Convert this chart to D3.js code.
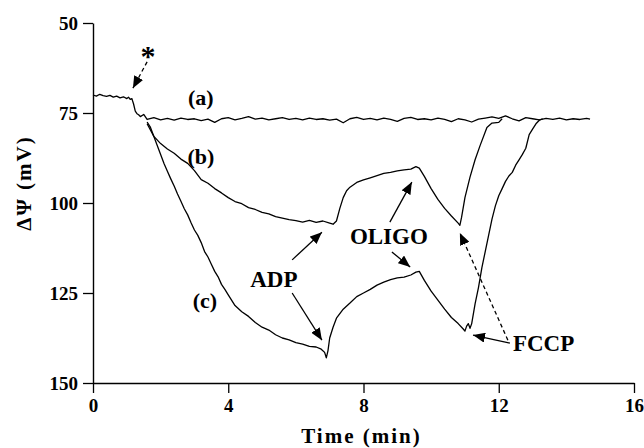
<!DOCTYPE html>
<html>
<head>
<meta charset="utf-8">
<script src="https://cdn.jsdelivr.net/npm/d3@7"></script>
<style>
  body { margin: 0; background: #fff; }
  text { font-family: "Liberation Serif", "Times New Roman", serif; font-weight: bold; fill: #000; }
</style>
</head>
<body>
<div id="chart"></div>
<script>
// ticks
var xTicks = [0, 4, 8, 12, 16];
var yTicks = [50, 75, 100, 125, 150];

// traces: [time (min), delta psi (mV)]
var traceA = [[0,70.0],[0.1,70.3],[0.2,69.8],[0.3,70.2],[0.4,70.4],[0.5,70.1],[0.6,70.6],[0.7,70.3],[0.8,70.8],[0.9,70.5],[1.0,71.0],[1.05,70.6],[1.1,71.2],[1.15,71.0],[1.2,72.5],[1.25,74.5],[1.3,75.2],[1.35,75.5],
  [1.4,76.0],[1.5,75.4],[1.6,76.8],[1.8,76.3],[2.0,76.9],[2.2,76.5],[2.4,77.0],[2.6,76.4],[2.8,76.8],[3.0,76.6],[3.2,77.1],[3.4,76.7],[3.6,77.6],[3.8,76.6],
  [4.0,76.3],[4.2,76.9],[4.4,76.5],[4.6,76.0],[4.8,76.7],[5.0,76.4],[5.2,76.9],[5.4,76.6],[5.6,76.3],[5.8,76.8],[6.0,76.5],[6.2,76.9],[6.4,76.4],[6.6,76.8],
  [6.8,76.6],[7.0,77.0],[7.2,76.7],[7.4,77.7],[7.6,76.6],[7.8,76.2],[8.0,76.8],[8.2,76.5],[8.4,76.9],[8.6,76.4],[8.8,76.8],[9.0,77.3],[9.2,76.5],[9.4,76.2],
  [9.6,76.8],[9.8,76.6],[10.0,76.9],[10.2,76.4],[10.4,76.8],[10.6,77.4],[10.8,76.6],[11.0,76.9],[11.2,77.5],[11.4,76.7],[11.6,76.4],[11.8,76.1],[12.0,76.5],
  [12.2,75.8],[12.4,76.6],[12.6,77.2],[12.8,76.3],[13.0,76.6],[13.2,76.9],[13.4,76.5],[13.6,76.8],[13.8,76.4],[14.0,76.9],[14.2,76.6],[14.4,76.8],[14.6,76.5],[14.7,76.7]];

var traceB = [[1.6,78.0],[1.8,81.5],[2.0,83.5],[2.2,85.0],[2.4,86.2],[2.6,87.8],[2.8,89.0],[3.0,91.0],[3.2,93.5],[3.4,94.5],[3.6,96.0],[3.8,97.2],[4.0,98.5],
  [4.2,99.6],[4.4,100.2],[4.6,101.3],[4.8,101.8],[5.0,102.6],[5.2,103.0],[5.4,103.8],[5.6,104.2],[5.8,104.6],[6.0,104.9],[6.2,105.3],[6.4,104.8],[6.6,105.4],
  [6.8,105.0],[7.0,105.6],[7.1,105.9],[7.2,105.0],[7.3,101.5],[7.4,98.5],[7.5,96.6],[7.6,95.6],[7.8,94.3],[8.0,93.6],[8.2,93.0],[8.4,92.4],[8.6,91.8],
  [8.8,91.5],[9.0,91.1],[9.2,90.8],[9.4,90.6],[9.55,89.9],[9.65,90.3],[9.8,92.6],[10.0,96.0],[10.2,99.0],[10.4,101.5],[10.6,103.6],[10.8,105.6],[10.85,106.2],
  [10.9,104.0],[11.0,98.5],[11.15,92.8],[11.3,88.0],[11.45,84.0],[11.65,79.0],[11.8,77.8],[12.0,77.6],[12.1,76.6]];

var traceC = [[1.6,77.5],[1.7,79.0],[1.8,81.5],[1.9,84.0],[2.0,86.5],[2.1,89.0],[2.2,91.2],[2.3,93.3],[2.4,95.3],[2.5,97.5],[2.6,99.5],[2.7,101.6],[2.8,103.3],
  [2.9,105.5],[3.0,107.5],[3.1,109.0],[3.2,111.0],[3.3,113.5],[3.4,115.0],[3.5,117.0],[3.6,119.0],[3.7,120.5],[3.8,122.6],[3.9,124.0],[4.0,125.5],[4.2,128.5],
  [4.4,130.2],[4.6,131.5],[4.8,133.2],[5.0,134.5],[5.2,135.3],[5.4,136.6],[5.6,137.5],[5.8,138.0],[6.0,138.8],[6.2,139.2],[6.4,139.8],[6.6,140.0],[6.75,140.6],
  [6.85,141.5],[6.9,143.0],[6.95,141.0],[7.0,137.5],[7.1,134.5],[7.2,132.0],[7.4,129.5],[7.6,127.8],[7.8,126.0],[8.0,125.0],[8.2,124.0],[8.4,122.8],[8.6,122.0],
  [8.8,121.3],[9.0,120.8],[9.2,120.6],[9.4,120.0],[9.55,119.2],[9.65,119.0],[9.8,121.5],[10.0,124.5],[10.2,127.0],[10.4,129.5],[10.6,131.8],[10.8,133.5],
  [10.95,135.0],[11.0,135.6],[11.05,134.2],[11.1,133.5],[11.15,134.8],[11.2,133.5],[11.3,128.0],[11.4,123.5],[11.5,118.0],[11.6,113.5],[11.7,109.0],[11.8,104.5],
  [11.9,100.8],[12.0,98.0],[12.1,96.0],[12.2,94.0],[12.3,92.5],[12.4,91.5],[12.5,89.5],[12.6,88.0],[12.7,86.5],[12.8,84.8],[12.9,81.0],[13.0,79.5],[13.1,78.0],
  [13.2,77.0],[13.3,76.6]];

// curve labels and additions, in data units
var curveLabels = [["(a)",3.19,72.8],["(b)",3.19,89.2],["(c)",3.31,129.2]];
var addLabels = [["ADP",5.35,123.3,"middle"],["OLIGO",8.75,111.4,"middle"],["FCCP",12.42,141.1,"start"]];
// arrows: [t0, v0, t1, v1, dashed]
var arrows = [[1.60,60.8,1.18,68.1,true],
  [5.89,115.8,6.77,108.1,false],[5.89,125.0,6.77,138.1,false],
  [8.78,105.3,9.43,94.2,false],[8.84,113.6,9.38,117.8,false],
  [12.33,138.9,11.24,136.7,false],[12.27,138.1,10.85,108.3,true]];

var margin = {top: 23, right: 10, bottom: 65, left: 93},
    width = 634 - margin.left,
    height = 383 - margin.top;

var svg = d3.select("#chart").append("svg")
    .attr("width", 644).attr("height", 448)
  .append("g")
    .attr("transform", "translate(" + margin.left + "," + margin.top + ")");

var x = d3.scaleLinear().domain([0, 16]).range([0, width]);
var y = d3.scaleLinear().domain([50, 150]).range([0, height]);

svg.append("defs").append("marker")
    .attr("id", "head")
    .attr("markerUnits", "userSpaceOnUse")
    .attr("viewBox", "0 0 12 10")
    .attr("refX", 12).attr("refY", 5)
    .attr("markerWidth", 12).attr("markerHeight", 10)
    .attr("orient", "auto")
  .append("path")
    .attr("d", "M0,0L12,5L0,10Z")
    .attr("fill", "#000");

// axes
var xAxis = svg.append("g")
    .attr("transform", "translate(0," + height + ")")
    .call(d3.axisBottom(x).tickValues(xTicks).tickSize(10).tickSizeOuter(0).tickPadding(6));
var yAxis = svg.append("g")
    .call(d3.axisLeft(y).tickValues(yTicks).tickSize(10).tickSizeOuter(0).tickPadding(5));
[xAxis, yAxis].forEach(function(a) {
  a.select(".domain").attr("stroke", "#000").attr("stroke-width", 1.4);
  a.selectAll(".tick line").attr("stroke", "#000").attr("stroke-width", 1.3);
  a.selectAll("text").attr("font-size", 19).attr("font-family", null);
});
xAxis.selectAll("text").attr("dy", "0.71em");

svg.append("text")
    .attr("x", width / 2 - 2).attr("y", height + 60)
    .attr("text-anchor", "middle")
    .attr("font-size", 21).attr("letter-spacing", 2)
    .text("Time (min)");
svg.append("text")
    .attr("transform", "translate(-62," + (height / 2 - 20) + ") rotate(-90)")
    .attr("text-anchor", "middle")
    .attr("font-size", 21).attr("letter-spacing", 2)
    .text("ΔΨ (mV)");

// traces
var line = d3.line().x(function(d) { return x(d[0]); }).y(function(d) { return y(d[1]); });
[traceA, traceB, traceC].forEach(function(tr) {
  svg.append("path")
      .datum(tr)
      .attr("d", line)
      .attr("fill", "none")
      .attr("stroke", "#000")
      .attr("stroke-width", 1.3)
      .attr("stroke-linejoin", "round");
});

// labels
svg.selectAll(".clab").data(curveLabels).enter().append("text")
    .attr("x", function(d) { return x(d[1]); })
    .attr("y", function(d) { return y(d[2]); })
    .attr("text-anchor", "middle")
    .attr("font-size", 22)
    .text(function(d) { return d[0]; });
svg.selectAll(".alab").data(addLabels).enter().append("text")
    .attr("x", function(d) { return x(d[1]); })
    .attr("y", function(d) { return y(d[2]); })
    .attr("text-anchor", function(d) { return d[3]; })
    .attr("font-size", 23)
    .text(function(d) { return d[0]; });

svg.append("text")
    .attr("x", x(1.63)).attr("y", y(61.9))
    .attr("text-anchor", "middle")
    .attr("font-size", 30)
    .text("*");

svg.selectAll(".arr").data(arrows).enter().append("line")
    .attr("x1", function(d) { return x(d[0]); })
    .attr("y1", function(d) { return y(d[1]); })
    .attr("x2", function(d) { return x(d[2]); })
    .attr("y2", function(d) { return y(d[3]); })
    .attr("stroke", "#000")
    .attr("stroke-width", 1.3)
    .attr("stroke-dasharray", function(d) { return d[4] ? "4,3" : null; })
    .attr("marker-end", "url(#head)");
</script>
</body>
</html>
